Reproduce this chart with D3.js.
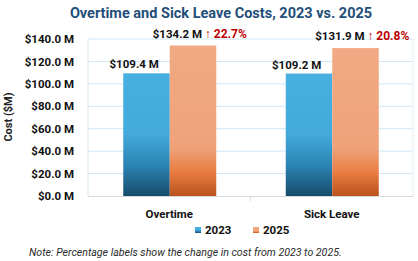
<!DOCTYPE html>
<html><head><meta charset="utf-8">
<script src="https://cdn.jsdelivr.net/npm/d3@7"></script>
<style>body{margin:0;background:#fff}svg{display:block}</style>
</head><body>
<script>
const categories = ["Overtime", "Sick Leave"];
const seriesNames = ["2023", "2025"];
const values2023 = [109.4, 109.2];
const values2025 = [134.2, 131.9];
const pctChange = ["22.7%", "20.8%"];
const yTicks = [0, 20, 40, 60, 80, 100, 120, 140];

const W = 418, H = 261;
const svg = d3.select("body").append("svg").attr("width", W).attr("height", H);
const font = "Roboto, 'Liberation Sans', sans-serif";

const x = d3.scaleBand().domain(categories).range([88, 413]).paddingInner(0).paddingOuter(0);
const xs = d3.scaleBand().domain(seriesNames).range([0, 93]);
const y = d3.scaleLinear().domain([0, 140]).range([196, 39]);

const defs = svg.append("defs");
const gb = defs.append("linearGradient").attr("id", "gBlue").attr("x1", 0).attr("y1", 0).attr("x2", 0).attr("y2", 1);
[[0, "#47B0E0"], [0.5, "#43AADB"], [0.75, "#2C84B4"], [1, "#154B6B"]].forEach(s => gb.append("stop").attr("offset", s[0]).attr("stop-color", s[1]));
const go = defs.append("linearGradient").attr("id", "gOrange").attr("x1", 0).attr("y1", 0).attr("x2", 0).attr("y2", 1);
[[0, "#F1AA84"], [0.68, "#EFA27A"], [0.85, "#E87A3E"], [1, "#B9521E"]].forEach(s => go.append("stop").attr("offset", s[0]).attr("stop-color", s[1]));

// Title
svg.append("text").attr("x", 221).attr("y", 18).attr("text-anchor", "middle")
  .attr("font-family", font).attr("font-weight", "bold").attr("font-size", 14.5)
  .attr("fill", "#1F4E79").text("Overtime and Sick Leave Costs, 2023 vs. 2025");

// Gridlines
svg.append("g").selectAll("line").data(yTicks.filter(d => d > 0)).join("line")
  .attr("x1", 88).attr("x2", 413).attr("y1", d => y(d)).attr("y2", d => y(d))
  .attr("stroke", "#CDE7F5").attr("stroke-width", 1);
svg.append("line").attr("x1", 413).attr("x2", 413).attr("y1", 39).attr("y2", 196).attr("stroke", "#E3F1F9");
svg.append("line").attr("x1", 88).attr("x2", 88).attr("y1", 39).attr("y2", 196).attr("stroke", "#D6EBF6");
svg.append("line").attr("x1", 88).attr("x2", 413).attr("y1", 196.5).attr("y2", 196.5).attr("stroke", "#D9D9D9");
svg.append("line").attr("x1", 250.5).attr("x2", 250.5).attr("y1", 196).attr("y2", 201).attr("stroke", "#D9D9D9");

// Y tick labels
const yAxis = d3.axisLeft(y).tickValues(yTicks).tickSize(0).tickPadding(0).tickFormat(d => "$" + d.toFixed(1) + " M");
const ga = svg.append("g").attr("transform", "translate(74,0)").call(yAxis);
ga.select(".domain").remove();
ga.selectAll("text").attr("font-family", font).attr("font-weight", "bold").attr("font-size", 11.5).attr("fill", "#111");

// Y title
svg.append("text").attr("transform", "translate(12,117) rotate(-90)").attr("text-anchor", "middle")
  .attr("font-family", font).attr("font-weight", "bold").attr("font-size", 11).attr("fill", "#222").text("Cost ($M)");

// Bars
const groups = svg.append("g").selectAll("g").data(categories).join("g")
  .attr("transform", d => `translate(${x(d) + (x.bandwidth() - 93) / 2 + 0.5},0)`);
groups.each(function(cat, i) {
  const g = d3.select(this);
  const v23 = values2023[i], v25 = values2025[i];
  g.append("rect").attr("x", xs("2023")).attr("width", xs.bandwidth()).attr("y", y(v23)).attr("height", y(0) - y(v23)).attr("fill", "url(#gBlue)");
  g.append("rect").attr("x", xs("2025")).attr("width", xs.bandwidth()).attr("y", y(v25)).attr("height", y(0) - y(v25)).attr("fill", "url(#gOrange)");
  g.append("text").attr("x", xs("2023") + xs.bandwidth() - 11).attr("y", y(v23) - 5).attr("text-anchor", "end")
    .attr("font-family", font).attr("font-weight", "bold").attr("font-size", 11.5).attr("fill", "#111")
    .text("$" + v23.toFixed(1) + " M");
  const t = g.append("text").attr("x", xs("2025") - 17).attr("y", y(v25) - 8).attr("text-anchor", "start")
    .attr("font-family", font).attr("font-weight", "bold").attr("font-size", 11.5);
  t.append("tspan").attr("fill", "#111").text("$" + v25.toFixed(1) + " M ");
  t.append("tspan").attr("fill", "#C00000").attr("font-size", 12).attr("font-weight", 900).text("↑");
  t.append("tspan").attr("fill", "#C00000").attr("font-size", 12).text(" " + pctChange[i]);
});

// Category labels
svg.append("g").selectAll("text").data(categories).join("text")
  .attr("x", d => x(d) + x.bandwidth() / 2).attr("y", 218).attr("text-anchor", "middle")
  .attr("font-family", font).attr("font-weight", "bold").attr("font-size", 11.5).attr("fill", "#111").text(d => d);

// Legend
const leg = [{n: "2023", c: "url(#gBlue)", x: 195}, {n: "2025", c: "url(#gOrange)", x: 253}];
const lg = svg.append("g").selectAll("g").data(leg).join("g").attr("transform", d => `translate(${d.x},0)`);
lg.append("rect").attr("x", 0).attr("y", 227).attr("width", 6).attr("height", 6).attr("fill", d => d.c);
lg.append("text").attr("x", 10).attr("y", 234).attr("font-family", font).attr("font-weight", "bold").attr("font-size", 11.5).attr("fill", "#111").text(d => d.n);

// Note
svg.append("text").attr("x", 29).attr("y", 256).attr("font-family", font).attr("font-style", "italic").attr("font-size", 10.6).attr("fill", "#2a2a2a")
  .text("Note: Percentage labels show the change in cost from 2023 to 2025.");
</script>
</body></html>
